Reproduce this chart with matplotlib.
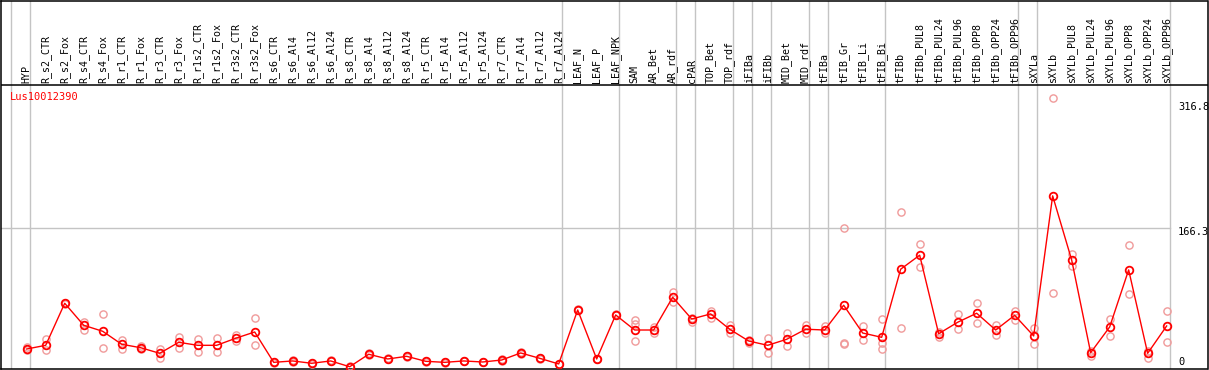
import matplotlib
matplotlib.use('Agg')
import matplotlib.pyplot as plt

# column names
labels = ['HYP', 'R_s2_CTR', 'R_s2_Fox', 'R_s4_CTR', 'R_s4_Fox', 'R_r1_CTR', 'R_r1_Fox',
          'R_r3_CTR', 'R_r3_Fox', 'R_r1s2_CTR', 'R_r1s2_Fox', 'R_r3s2_CTR', 'R_r3s2_Fox',
          'R_s6_CTR', 'R_s6_Al4', 'R_s6_Al12', 'R_s6_Al24', 'R_s8_CTR', 'R_s8_Al4',
          'R_s8_Al12', 'R_s8_Al24', 'R_r5_CTR', 'R_r5_Al4', 'R_r5_Al12', 'R_r5_Al24',
          'R_r7_CTR', 'R_r7_Al4', 'R_r7_Al12', 'R_r7_Al24', 'LEAF_N', 'LEAF_P', 'LEAF_NPK',
          'SAM', 'AR_Bet', 'AR_rdf', 'cPAR', 'TOP_Bet', 'TOP_rdf', 'iFIBa', 'iFIBb',
          'MID_Bet', 'MID_rdf', 'tFIBa', 'tFIB_Gr', 'tFIB_Li', 'tFIB_Bi', 'tFIBb',
          'tFIBb_PUL8', 'tFIBb_PUL24', 'tFIBb_PUL96', 'tFIBb_OPP8', 'tFIBb_OPP24', 'tFIBb_OPP96',
          'sXYLa', 'sXYLb', 'sXYLb_PUL8', 'sXYLb_PUL24', 'sXYLb_PUL96', 'sXYLb_OPP8',
          'sXYLb_OPP24', 'sXYLb_OPP96']

# mean expression per column
means = [25.0, 29.3, 78.2, 52.6, 45.6, 30.5, 26.5, 20.0, 32.8, 29.3, 29.3, 37.5, 44.8,
         9.5, 11.1, 8.4, 11.1, 4.4, 18.9, 13.4, 16.5, 10.7, 9.5, 11.1, 9.9, 12.2, 20.4,
         14.2, 7.6, 70.4, 13.4, 64.6, 47.1, 47.1, 85.2, 59.9, 65.8, 48.0, 34.3, 29.3,
         36.3, 48.0, 47.1, 75.9, 43.6, 38.6, 117.8, 134.1, 42.8, 56.1, 66.6, 47.1, 64.2,
         40.2, 203.1, 128.6, 20.7, 50.6, 117.0, 20.0, 51.8]

# replicate values per column
reps = [[27.7, 23.9], [36.3, 23.9], [77.4, 79.0], [56.4, 47.1], [65.4, 25.8],
        [35.5, 25.0], [28.9, 25.0], [25.0, 14.9], [38.6, 26.5], [36.7, 21.2],
        [37.8, 21.2], [41.7, 34.7], [60.8, 29.3], [8.8, 10.2], [10.4, 11.8],
        [7.9, 8.9], [10.5, 11.7], [3.9, 4.9], [18.0, 19.8], [12.8, 14.0],
        [15.8, 17.2], [10.1, 11.3], [9.0, 10.0], [10.6, 11.6], [9.4, 10.4],
        [11.6, 12.8], [19.6, 21.2], [13.5, 14.9], [7.1, 8.1], [69.8, 71.0],
        [12.9, 13.9], [64.0, 65.2], [58.7, 54.1, 34.7], [50.3, 43.3], [91.4, 79.4],
        [61.5, 56.4], [68.9, 60.8], [53.0, 44.0], [35.5, 32.4], [37.5, 20.0],
        [43.3, 28.9], [53.0, 43.3], [51.8, 43.3], [165.9, 30.5, 31.5], [51.8, 35.5],
        [59.6, 31.7, 25.0], [184.8, 49.1], [146.9, 120.8], [45.2, 38.6], [65.4, 48.0],
        [78.2, 54.9], [53.0, 41.3], [69.3, 58.8], [49.5, 30.5], [316.8, 89.9],
        [135.6, 121.6], [23.0, 16.9], [59.9, 40.2], [145.7, 88.7], [23.0, 14.2],
        [69.3, 32.8]]

# last column index of each group (-1 = before first)
group_ends = [-1, 0, 28, 31, 34, 35, 37, 38, 39, 41, 42, 45, 52, 53, 60]

gene = 'Lus10012390'
ytick_vals = [316.8, 166.3, 0]
ytick_pos = [306.7, 161.2, 9.9]

fig = plt.figure(figsize=(12.09, 3.70), dpi=100)
ax = fig.add_axes([1 / 1209, 1.5 / 370, 1206.5 / 1209, 368.0 / 370])
ax.set_xlim(-1.353, 62.15)
ax.set_ylim(2.33, 430.3)
ax.set_xticks([])
ax.set_yticks([])
for s in ax.spines.values():
    s.set_color('black')
    s.set_linewidth(1.1)

# group separators and horizontal guide
for g in group_ends:
    ax.axvline(g + 0.18, color='#c4c4c4', lw=1, zorder=1)
ax.plot([-1.353, group_ends[-1] + 0.18], [166.3, 166.3], color='#c4c4c4', lw=1, zorder=1)
ax.axhline(332.3, color='black', lw=1.1, zorder=2)

# replicates
for i, r in enumerate(reps):
    ax.plot([i] * len(r), r, 'o', ms=5.2, mfc='none', mec='#f09a9a', mew=1.0, zorder=3)

# means
x = list(range(len(means)))
ax.plot(x, means, '-', color='red', lw=1, zorder=4)
ax.plot(x, means, 'o', ms=5.5, mfc='none', mec='red', mew=1.3, zorder=5)

# column labels
for i, lab in enumerate(labels):
    ax.text(i, 334.6, lab, rotation=90, ha='center', va='bottom',
            family='DejaVu Sans Mono', fontsize=7.2, color='black')

ax.text(-0.88, 318.3, gene, ha='left', va='center', family='DejaVu Sans Mono',
        fontsize=7.5, color='red')

for v, p in zip(ytick_vals, ytick_pos):
    ax.text(60.6, p, f'{v:g}', ha='left', va='center', family='DejaVu Sans Mono',
            fontsize=7.5, color='black')

fig.savefig('out.png', dpi=100)
